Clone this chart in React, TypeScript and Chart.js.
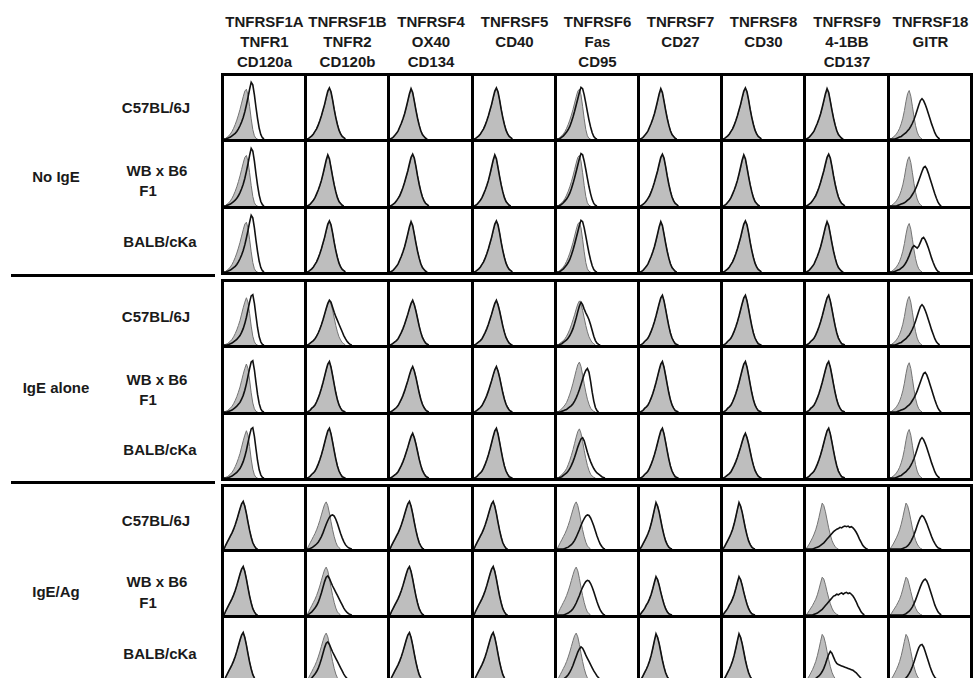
import React, { useEffect, useRef } from "react";
import { Chart, registerables } from "chart.js";
Chart.register(...registerables);

// ---------- text ----------
const COL_LINE1 = ["TNFRSF1A", "TNFRSF1B", "TNFRSF4", "TNFRSF5", "TNFRSF6", "TNFRSF7", "TNFRSF8", "TNFRSF9", "TNFRSF18"];
const COL_LINE2 = ["TNFR1", "TNFR2", "OX40", "CD40", "Fas", "CD27", "CD30", "4-1BB", "GITR"];
const COL_LINE3 = ["CD120a", "CD120b", "CD134", "", "CD95", "", "", "CD137", ""];
const GROUPS = ["No IgE", "IgE alone", "IgE/Ag"];
const STRAINS = [["C57BL/6J"], ["WB x B6", "F1"], ["BALB/cKa"]];

// ---------- histogram profiles (counts per fluorescence bin, 50 bins per panel) ----------
const BINS = 50;
// isotype controls (grey)
const CTRL_HI = [0, 1, 3, 5, 8, 12, 17, 23, 29, 36, 45, 54, 64, 74, 80, 74, 62, 48, 35, 24, 15, 9, 5, 2, 0];
const CTRL_HI2 = [0, 1, 3, 6, 9, 13, 18, 24, 31, 39, 49, 59, 70, 78, 73, 61, 47, 34, 23, 14, 8, 4, 2, 0];
const CTRL_T1 = [0, 1, 3, 5, 8, 12, 17, 23, 30, 38, 47, 57, 67, 76, 79, 70, 52, 32, 15, 5, 1, 0];
const CTRL_MID = [0, 1, 3, 5, 7, 10, 14, 19, 25, 32, 40, 48, 57, 65, 70, 65, 55, 43, 31, 21, 13, 8, 4, 2, 0];
const CTRL_MID2 = [0, 1, 3, 5, 8, 11, 15, 21, 28, 36, 45, 55, 65, 74, 78, 71, 58, 44, 31, 20, 12, 6, 3, 1, 0];
const CTRL_T1M = [0, 1, 2, 4, 6, 9, 13, 18, 24, 31, 39, 49, 59, 68, 75, 68, 50, 30, 14, 5, 1, 0];
const CTRL_GITR = [0, 1, 3, 5, 8, 12, 17, 24, 33, 45, 60, 72, 77, 68, 52, 35, 21, 11, 5, 2, 0];
const CTRL_AG = [0, 5, 10, 15, 20, 25, 31, 38, 46, 55, 64, 72, 76, 70, 58, 44, 31, 20, 11, 5, 2, 0];
const CTRL_AG2 = [0, 4, 8, 13, 18, 24, 31, 40, 51, 63, 74, 70, 60, 47, 34, 23, 14, 8, 4, 1, 0];
const CTRL_AGL = [0, 3, 7, 11, 15, 20, 25, 32, 41, 51, 60, 57, 48, 37, 27, 18, 11, 6, 3, 1, 0];
// specific stains (black)
const SAME_HI = [0, 1, 3, 5, 8, 12, 16, 22, 29, 37, 46, 55, 66, 76, 81, 75, 62, 47, 34, 23, 14, 8, 4, 2, 0];
const SAME_HI2 = [0, 1, 3, 6, 9, 13, 19, 25, 32, 40, 50, 61, 72, 80, 74, 60, 46, 33, 22, 13, 7, 4, 1, 0];
const SAME_MID = [0, 1, 3, 5, 7, 10, 15, 20, 26, 33, 41, 49, 58, 66, 71, 64, 54, 42, 30, 20, 12, 7, 3, 1, 0];
const SAME_MID2 = [0, 1, 3, 6, 8, 11, 16, 22, 29, 37, 46, 56, 66, 75, 79, 70, 57, 43, 30, 19, 11, 6, 2, 1, 0];
const SAME_AG = [0, 6, 11, 16, 21, 26, 32, 39, 47, 56, 65, 73, 77, 69, 57, 43, 30, 19, 10, 5, 1, 0];
const SAME_AG2 = [0, 4, 9, 14, 19, 25, 32, 41, 52, 64, 75, 69, 59, 46, 33, 22, 13, 7, 3, 1, 0];
const SAME_AGL = [0, 4, 7, 11, 16, 20, 26, 33, 42, 52, 61, 56, 47, 36, 26, 17, 10, 5, 2, 1, 0];
const ST_TNFR1 = [0, 0, 1, 2, 3, 5, 7, 9, 12, 16, 21, 27, 34, 43, 54, 66, 79, 90, 86, 70, 50, 32, 17, 7, 2, 0];
const ST_TNFR1M = [0, 0, 0, 1, 2, 3, 5, 7, 9, 12, 15, 20, 26, 34, 44, 56, 68, 78, 80, 66, 46, 27, 13, 5, 1, 0];
const ST_FAS_A = [0, 0, 1, 3, 5, 8, 11, 15, 20, 27, 35, 44, 54, 64, 74, 82, 80, 70, 57, 43, 30, 19, 10, 4, 1, 0];
const ST_TAIL = [0, 1, 3, 5, 7, 10, 14, 19, 25, 32, 40, 49, 58, 66, 71, 68, 60, 52, 45, 39, 33, 27, 21, 15, 10, 6, 3, 1, 0];
const ST_FAS_SH = [0, 0, 1, 2, 4, 6, 8, 11, 15, 20, 26, 34, 43, 53, 62, 68, 64, 57, 51, 46, 40, 32, 23, 14, 7, 3, 1, 0];
const ST_FAS_WB = [0, 0, 0, 1, 2, 3, 4, 6, 8, 10, 13, 17, 22, 28, 35, 43, 51, 59, 65, 68, 62, 48, 31, 17, 7, 2, 0];
const ST_FAS_BALB = [0, 0, 1, 2, 4, 6, 8, 11, 15, 20, 26, 33, 41, 49, 56, 62, 64, 59, 50, 41, 33, 26, 20, 15, 11, 8, 6, 4, 2, 1, 0];
const ST_GITR = [0, 0, 0, 0, 1, 2, 3, 4, 6, 8, 10, 13, 16, 20, 25, 31, 38, 46, 54, 61, 64, 61, 55, 48, 40, 32, 24, 17, 10, 5, 2, 0];
const ST_GITR_B = [0, 0, 0, 0, 0, 1, 2, 3, 4, 5, 7, 9, 11, 14, 18, 22, 27, 33, 40, 47, 54, 60, 62, 58, 51, 43, 35, 27, 19, 12, 6, 2, 0];
const ST_GITR_C = [0, 0, 0, 1, 2, 3, 4, 6, 8, 11, 15, 20, 26, 33, 39, 42, 40, 38, 41, 47, 53, 55, 51, 45, 38, 30, 22, 15, 9, 4, 1, 0];
const ST_AG_TNFR2 = [0, 0, 1, 2, 4, 6, 8, 11, 15, 20, 26, 33, 40, 46, 51, 54, 55, 53, 48, 41, 33, 25, 18, 12, 7, 4, 2, 1, 0];
const ST_AG_TNFR2B = [0, 1, 3, 5, 8, 11, 15, 20, 27, 35, 44, 53, 60, 62, 58, 52, 46, 41, 36, 31, 26, 21, 16, 11, 7, 4, 2, 1, 0];
const ST_AG_FAS = [0, 0, 0, 0, 0, 1, 2, 3, 5, 7, 10, 14, 19, 25, 31, 38, 44, 49, 53, 55, 54, 50, 44, 37, 29, 21, 14, 8, 4, 1, 0];
const ST_AG_FAS_B = [0, 0, 1, 2, 3, 5, 7, 10, 14, 19, 25, 32, 39, 46, 51, 54, 52, 47, 41, 36, 31, 26, 21, 16, 12, 8, 5, 2, 1, 0];
const ST_CD137_1 = [0, 0, 0, 0, 0, 1, 2, 3, 4, 6, 8, 10, 13, 16, 19, 22, 25, 28, 30, 32, 33, 35, 34, 36, 37, 36, 37, 35, 36, 34, 31, 27, 22, 16, 11, 6, 3, 1, 0];
const ST_CD137_2 = [0, 0, 0, 0, 0, 1, 2, 3, 5, 7, 9, 12, 15, 18, 21, 24, 27, 30, 31, 33, 32, 34, 35, 33, 35, 36, 34, 35, 33, 30, 26, 21, 15, 10, 5, 2, 0];
const ST_CD137_3 = [0, 0, 0, 1, 2, 3, 4, 6, 8, 11, 15, 20, 27, 35, 42, 47, 44, 38, 32, 28, 26, 25, 24, 23, 22, 21, 20, 19, 18, 17, 15, 13, 10, 7, 4, 2, 0];
const ST_GITR_AG1 = [0, 0, 0, 0, 0, 0, 0, 0, 1, 2, 3, 5, 8, 12, 17, 23, 30, 38, 45, 51, 54, 52, 47, 41, 34, 27, 20, 14, 9, 5, 2, 1, 0];
const ST_GITR_AG2 = [0, 0, 0, 0, 0, 0, 0, 0, 0, 1, 2, 4, 6, 9, 13, 18, 24, 31, 38, 45, 51, 55, 57, 54, 48, 40, 32, 24, 16, 10, 5, 2, 0];
const ST_GITR_AG3 = [0, 0, 0, 0, 0, 0, 0, 1, 2, 3, 5, 8, 12, 17, 23, 30, 38, 46, 53, 57, 58, 54, 47, 39, 31, 23, 16, 10, 6, 3, 1, 0];

const PROFILES: Record<string, number[]> = {
  CTRL_HI, CTRL_HI2, CTRL_T1, CTRL_MID, CTRL_MID2, CTRL_T1M, CTRL_GITR, CTRL_AG, CTRL_AG2, CTRL_AGL,
  SAME_HI, SAME_HI2, SAME_MID, SAME_MID2, SAME_AG, SAME_AG2, SAME_AGL,
  ST_TNFR1, ST_TNFR1M, ST_FAS_A, ST_TAIL, ST_FAS_SH, ST_FAS_WB, ST_FAS_BALB,
  ST_GITR, ST_GITR_B, ST_GITR_C, ST_AG_TNFR2, ST_AG_TNFR2B, ST_AG_FAS, ST_AG_FAS_B,
  ST_CD137_1, ST_CD137_2, ST_CD137_3, ST_GITR_AG1, ST_GITR_AG2, ST_GITR_AG3,
};

// which control / stain profile each panel shows (rows: 3 strains x 3 treatments; cols: receptors)
const GRID_CONTROL = [
  ["CTRL_T1", "CTRL_HI", "CTRL_HI2", "CTRL_HI", "CTRL_T1", "CTRL_HI2", "CTRL_HI", "CTRL_HI2", "CTRL_GITR"],
  ["CTRL_T1", "CTRL_HI2", "CTRL_HI", "CTRL_HI2", "CTRL_T1", "CTRL_HI", "CTRL_HI2", "CTRL_HI", "CTRL_GITR"],
  ["CTRL_T1", "CTRL_HI", "CTRL_HI2", "CTRL_HI", "CTRL_T1", "CTRL_HI2", "CTRL_HI", "CTRL_HI2", "CTRL_GITR"],
  ["CTRL_T1M", "CTRL_MID", "CTRL_MID", "CTRL_MID", "CTRL_MID", "CTRL_MID2", "CTRL_MID2", "CTRL_MID2", "CTRL_GITR"],
  ["CTRL_T1M", "CTRL_MID2", "CTRL_MID", "CTRL_MID", "CTRL_MID2", "CTRL_MID2", "CTRL_MID2", "CTRL_MID2", "CTRL_GITR"],
  ["CTRL_T1M", "CTRL_MID2", "CTRL_MID", "CTRL_MID2", "CTRL_MID2", "CTRL_MID2", "CTRL_MID", "CTRL_MID2", "CTRL_GITR"],
  ["CTRL_AG", "CTRL_AG", "CTRL_AG", "CTRL_AG", "CTRL_AG", "CTRL_AG2", "CTRL_AG2", "CTRL_AG2", "CTRL_AG2"],
  ["CTRL_AG", "CTRL_AG", "CTRL_AG", "CTRL_AG", "CTRL_AG", "CTRL_AGL", "CTRL_AGL", "CTRL_AGL", "CTRL_AGL"],
  ["CTRL_AG", "CTRL_AG", "CTRL_AG", "CTRL_AG", "CTRL_AG", "CTRL_AG2", "CTRL_AG2", "CTRL_AG2", "CTRL_AG2"],
];
const GRID_STAIN = [
  ["ST_TNFR1", "SAME_HI", "SAME_HI2", "SAME_HI", "ST_FAS_A", "SAME_HI2", "SAME_HI", "SAME_HI2", "ST_GITR"],
  ["ST_TNFR1", "SAME_HI2", "SAME_HI", "SAME_HI2", "ST_FAS_A", "SAME_HI", "SAME_HI2", "SAME_HI", "ST_GITR_B"],
  ["ST_TNFR1", "SAME_HI", "SAME_HI2", "SAME_HI", "ST_FAS_A", "SAME_HI2", "SAME_HI", "SAME_HI2", "ST_GITR_C"],
  ["ST_TNFR1M", "ST_TAIL", "SAME_MID", "SAME_MID", "ST_FAS_SH", "SAME_MID2", "SAME_MID2", "SAME_MID2", "ST_GITR"],
  ["ST_TNFR1M", "SAME_MID2", "SAME_MID", "SAME_MID", "ST_FAS_WB", "SAME_MID2", "SAME_MID2", "SAME_MID2", "ST_GITR_B"],
  ["ST_TNFR1M", "SAME_MID2", "SAME_MID", "SAME_MID2", "ST_FAS_BALB", "SAME_MID2", "SAME_MID", "SAME_MID2", "ST_GITR"],
  ["SAME_AG", "ST_AG_TNFR2", "SAME_AG", "SAME_AG", "ST_AG_FAS", "SAME_AG2", "SAME_AG2", "ST_CD137_1", "ST_GITR_AG1"],
  ["SAME_AG", "ST_AG_TNFR2B", "SAME_AG", "SAME_AG", "ST_AG_FAS", "SAME_AGL", "SAME_AGL", "ST_CD137_2", "ST_GITR_AG2"],
  ["SAME_AG", "ST_AG_TNFR2B", "SAME_AG", "SAME_AG", "ST_AG_FAS_B", "SAME_AG2", "SAME_AG2", "ST_CD137_3", "ST_GITR_AG3"],
];

// ---------- layout ----------
const COL_EDGES = [222, 305, 388, 472, 555, 638, 721, 804, 888, 971];
const ROW_EDGES = [
  [74, 140, 207, 273],
  [280, 346, 413, 479],
  [485, 550, 616, 682],
];
const LINE = 3;
const FONT = "bold 15px 'Liberation Sans', Arial, Helvetica, sans-serif";
const TEXT = "#1a1a1a";
const HEADER_BASE = [26.5, 46.5, 66.5];
const STRAIN_X = [156, 157, 160];
const F1_X = 148;
const GROUP_X = 56;
const STRAIN_BASE = [
  [113.3, 176, 196, 247.3],
  [321.7, 385, 405, 455],
  [526, 587.3, 608, 659],
];
const GROUP_BASE = [181.7, 392.7, 596.7];
const SEPARATORS = [274, 481];

const pts = (arr: number[]) => arr.map((v, i) => ({ x: i, y: v }));

function Panel(props: { left: number; top: number; width: number; height: number; ctrl: string; stain: string }) {
  const ref = useRef<HTMLCanvasElement | null>(null);
  useEffect(() => {
    const chart = new Chart(ref.current as HTMLCanvasElement, {
      type: "line",
      data: {
        datasets: [
          {
            data: pts(PROFILES[props.stain]),
            borderColor: "#111",
            borderWidth: 1.6,
            fill: false,
            pointRadius: 0,
            tension: 0,
            order: 0,
          },
          {
            data: pts(PROFILES[props.ctrl]),
            borderColor: "rgb(115,115,115)",
            borderWidth: 1,
            backgroundColor: "rgb(190,190,190)",
            fill: "origin",
            pointRadius: 0,
            tension: 0,
            order: 1,
          },
        ],
      },
      options: {
        animation: false,
        responsive: false,
        events: [],
        layout: { padding: 0 },
        plugins: { legend: { display: false }, tooltip: { enabled: false } },
        scales: {
          x: { type: "linear", min: 0, max: BINS, display: false },
          y: { min: 0, max: 100, display: false },
        },
      },
    } as any);
    return () => chart.destroy();
  }, [props.ctrl, props.stain]);
  return (
    <canvas
      ref={ref}
      width={props.width}
      height={props.height}
      style={{ position: "absolute", left: props.left, top: props.top, width: props.width, height: props.height }}
    />
  );
}

function Txt(props: { x: number; base: number; children: React.ReactNode }) {
  return (
    <div
      style={{
        position: "absolute",
        left: props.x,
        top: props.base - 15,
        transform: "translateX(-50%)",
        font: FONT,
        lineHeight: "20px",
        color: TEXT,
        whiteSpace: "nowrap",
      }}
    >
      {props.children}
    </div>
  );
}

export default function App() {
  const panels: React.ReactNode[] = [];
  const lines: React.ReactNode[] = [];
  ROW_EDGES.forEach((edges, g) => {
    for (let r = 0; r < 3; r++) {
      const row = g * 3 + r;
      for (let c = 0; c < 9; c++) {
        const left = COL_EDGES[c] + 2;
        const top = edges[r] + 2;
        const width = COL_EDGES[c + 1] - COL_EDGES[c] - 3;
        const height = edges[r + 1] - edges[r] - 3;
        panels.push(
          <Panel key={`p${row}-${c}`} left={left} top={top} width={width} height={height}
            ctrl={GRID_CONTROL[row][c]} stain={GRID_STAIN[row][c]} />
        );
      }
    }
    edges.forEach((y, i) => {
      lines.push(
        <div key={`h${g}-${i}`} style={{ position: "absolute", left: COL_EDGES[0] - 1, top: y - 1, width: COL_EDGES[9] - COL_EDGES[0] + LINE, height: LINE, background: "#000" }} />
      );
    });
    COL_EDGES.forEach((x, i) => {
      lines.push(
        <div key={`v${g}-${i}`} style={{ position: "absolute", left: x - 1, top: edges[0] - 1, width: LINE, height: edges[3] - edges[0] + LINE, background: "#000" }} />
      );
    });
  });

  const texts: React.ReactNode[] = [];
  for (let c = 0; c < 9; c++) {
    const cx = (COL_EDGES[c] + COL_EDGES[c + 1]) / 2 + 1;
    [COL_LINE1[c], COL_LINE2[c], COL_LINE3[c]].forEach((t, i) => {
      if (t) texts.push(<Txt key={`h${c}-${i}`} x={cx} base={HEADER_BASE[i]}>{t}</Txt>);
    });
  }
  GROUPS.forEach((gname, g) => {
    texts.push(<Txt key={`g${g}`} x={GROUP_X} base={GROUP_BASE[g]}>{gname}</Txt>);
    const b = STRAIN_BASE[g];
    texts.push(<Txt key={`s${g}-0`} x={STRAIN_X[0]} base={b[0]}>{STRAINS[0][0]}</Txt>);
    texts.push(<Txt key={`s${g}-1`} x={STRAIN_X[1]} base={b[1]}>{STRAINS[1][0]}</Txt>);
    texts.push(<Txt key={`s${g}-2`} x={F1_X} base={b[2]}>{STRAINS[1][1]}</Txt>);
    texts.push(<Txt key={`s${g}-3`} x={STRAIN_X[2]} base={b[3]}>{STRAINS[2][0]}</Txt>);
  });

  return (
    <div style={{ position: "absolute", left: 0, top: 0, width: 979, height: 678, overflow: "hidden", background: "#fff" }}>
      {panels}
      {lines}
      {SEPARATORS.map((y, i) => (
        <div key={`sep${i}`} style={{ position: "absolute", left: 11, top: y, width: 204, height: 3, background: "#000" }} />
      ))}
      {texts}
    </div>
  );
}
